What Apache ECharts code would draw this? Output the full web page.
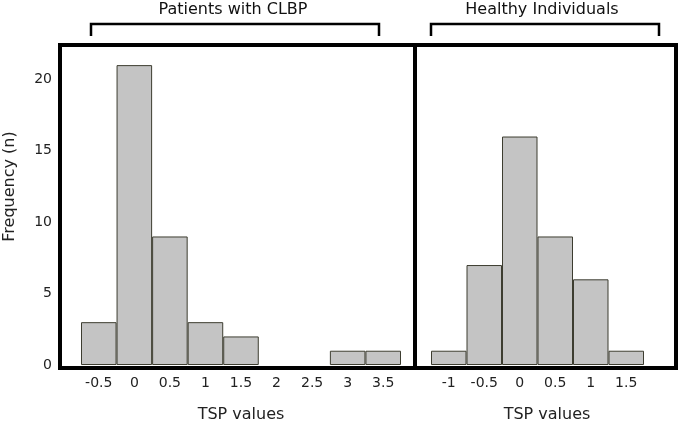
<!DOCTYPE html>
<html>
<head>
<meta charset="utf-8">
<script src="https://cdn.jsdelivr.net/npm/echarts@6/dist/echarts.min.js"></script>
<style>
html,body{margin:0;padding:0;background:#fff;}
#main{width:685px;height:428px;}
</style>
</head>
<body>
<div id="main"></div>
<script>
// Data
const clbpBins = ['-0.5', '0', '0.5', '1', '1.5', '2', '2.5', '3', '3.5'];
const clbpFreq = [3, 21, 9, 3, 2, 0, 0, 1, 1];
const healthyBins = ['-1', '-0.5', '0', '0.5', '1', '1.5'];
const healthyFreq = [1, 7, 16, 9, 6, 1];
const yTicks = [0, 5, 10, 15, 20];
const groupTitles = ['Patients with CLBP', 'Healthy Individuals'];
const xTitle = 'TSP values';
const yTitle = 'Frequency (n)';

const FONT = 'DejaVu Sans';
const barStyle = { color: '#c4c4c4', borderColor: '#3d3d30', borderWidth: 1 };
// empty bins draw nothing (no outline on the baseline)
const toBars = arr => arr.map(v => v === 0 ? { value: v, itemStyle: { borderWidth: 0, opacity: 0 } } : v);

const chart = echarts.init(document.getElementById('main'), null, { renderer: 'canvas' });

const xLabel = { color: '#222', fontFamily: FONT, fontSize: 14, margin: 11, interval: 0 };

const option = {
  backgroundColor: '#fff',
  animation: false,
  grid: [
    { left: 81, top: 8, width: 320, height: 360 },
    { left: 431, top: 8, width: 213, height: 360 }
  ],
  xAxis: [
    {
      type: 'category', gridIndex: 0, data: clbpBins, boundaryGap: true,
      axisLine: { show: false }, axisTick: { show: false },
      axisLabel: xLabel,
      name: xTitle, nameLocation: 'middle', nameGap: 42,
      nameTextStyle: { color: '#222', fontFamily: FONT, fontSize: 16 }
    },
    {
      type: 'category', gridIndex: 1, data: healthyBins, boundaryGap: true,
      axisLine: { show: false }, axisTick: { show: false },
      axisLabel: xLabel,
      name: xTitle, nameLocation: 'middle', nameGap: 42,
      nameTextStyle: { color: '#222', fontFamily: FONT, fontSize: 16, padding: [0, 0, 0, 19] }
    }
  ],
  yAxis: [
    {
      type: 'value', gridIndex: 0, min: 0, max: 25, interval: 5,
      axisLine: { show: false }, axisTick: { show: false }, splitLine: { show: false },
      axisLabel: { color: '#222', fontFamily: FONT, fontSize: 14, margin: 29,
        customValues: yTicks },
      name: yTitle, nameLocation: 'middle', nameGap: 63, nameRotate: 90,
      nameTextStyle: { color: '#222', fontFamily: FONT, fontSize: 16 }
    },
    {
      type: 'value', gridIndex: 1, min: 0, max: 25, interval: 5,
      axisLine: { show: false }, axisTick: { show: false }, splitLine: { show: false },
      axisLabel: { show: false }
    }
  ],
  series: [
    {
      type: 'bar', xAxisIndex: 0, yAxisIndex: 0, data: toBars(clbpFreq),
      barCategoryGap: '0%', itemStyle: barStyle, silent: true
    },
    {
      type: 'bar', xAxisIndex: 1, yAxisIndex: 1, data: toBars(healthyFreq),
      barCategoryGap: '0%', itemStyle: barStyle, silent: true
    }
  ],
  graphic: [
    { type: 'rect', shape: { x: 60, y: 45, width: 616, height: 323 },
      style: { fill: null, stroke: '#000', lineWidth: 4 }, z: 100 },
    { type: 'line', shape: { x1: 415, y1: 45, x2: 415, y2: 368 },
      style: { stroke: '#000', lineWidth: 4 }, z: 100 },
    { type: 'polyline', shape: { points: [[91, 36], [91, 24], [379, 24], [379, 36]] },
      style: { stroke: '#000', lineWidth: 2.5, fill: null } },
    { type: 'polyline', shape: { points: [[431, 36], [431, 24], [659, 24], [659, 36]] },
      style: { stroke: '#000', lineWidth: 2.5, fill: null } },
    { type: 'text', x: 233, y: 10,
      style: { text: groupTitles[0], fill: '#111', font: '16px "DejaVu Sans"', textAlign: 'center', textVerticalAlign: 'middle' } },
    { type: 'text', x: 542, y: 10,
      style: { text: groupTitles[1], fill: '#111', font: '16px "DejaVu Sans"', textAlign: 'center', textVerticalAlign: 'middle' } }
  ]
};

chart.setOption(option);
</script>
</body>
</html>
